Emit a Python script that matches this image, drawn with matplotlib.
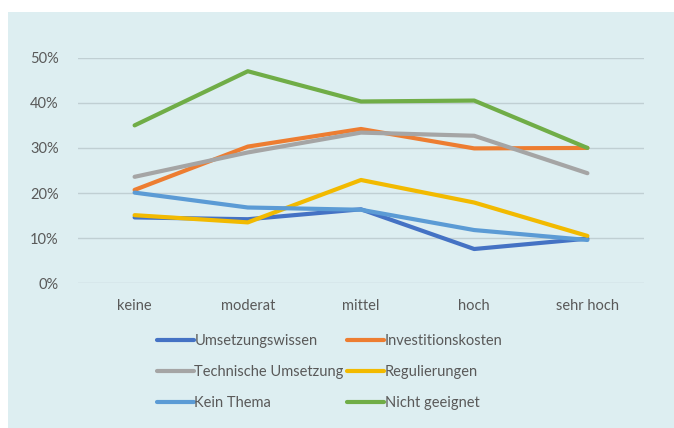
import matplotlib.pyplot as plt
from matplotlib.patches import Rectangle
from matplotlib.ticker import PercentFormatter

categories = ['keine', 'moderat', 'mittel', 'hoch', 'sehr hoch']
umsetzungswissen = [14.6, 14.2, 16.4, 7.6, 9.9]
investitionskosten = [20.7, 30.3, 34.2, 29.9, 30.0]
technische_umsetzung = [23.6, 29.0, 33.4, 32.7, 24.4]
regulierungen = [15.1, 13.5, 22.9, 17.9, 10.5]
kein_thema = [20.1, 16.8, 16.3, 11.8, 9.6]
nicht_geeignet = [35.0, 47.0, 40.3, 40.5, 30.0]

series = [
    ('Umsetzungswissen', umsetzungswissen, '#4472C4'),
    ('Investitionskosten', investitionskosten, '#ED7D31'),
    ('Technische Umsetzung', technische_umsetzung, '#A5A5A5'),
    ('Regulierungen', regulierungen, '#F2BA00'),
    ('Kein Thema', kein_thema, '#5B9BD5'),
    ('Nicht geeignet', nicht_geeignet, '#70AD47'),
]

plt.rcParams['font.family'] = ['Lato', 'DejaVu Sans']
text_color = '#595959'
bg = '#DDEEF1'

fig = plt.figure(figsize=(6.74, 4.28), dpi=100)
fig.patch.set_facecolor('white')
# light panel behind the chart (white strip on left and top)
fig.patches.append(Rectangle((8 / 674, 0), 1 - 8 / 674, 1 - 12 / 428,
                             transform=fig.transFigure, facecolor=bg,
                             edgecolor='none', zorder=-10))

ax = fig.add_axes([78 / 674, 1 - 283.3 / 428, 566 / 674, (283.3 - 57.7) / 428])
ax.set_facecolor('none')

x = list(range(len(categories)))
lines = {}
for name, vals, col in series:
    ln, = ax.plot(x, vals, color=col, linewidth=3.0, label=name,
                  solid_joinstyle='round', solid_capstyle='round')
    lines[name] = ln

ax.set_xlim(-0.5, len(categories) - 0.5)
ax.set_ylim(0, 50)
ax.set_yticks(range(0, 51, 10))
ax.yaxis.set_major_formatter(PercentFormatter(decimals=0))
ax.set_xticks(x)
ax.set_xticklabels(categories)
ax.tick_params(axis='both', length=0, labelsize=10.5, colors=text_color)
ax.tick_params(axis='x', pad=11)
ax.tick_params(axis='y', pad=14)
ax.grid(axis='y', color='#C0CFD3', linewidth=1)
ax.set_axisbelow(True)
for s in ax.spines.values():
    s.set_visible(False)

# Excel-style legend order (row-wise) -> matplotlib fills column-wise
order = ['Umsetzungswissen', 'Technische Umsetzung', 'Kein Thema',
         'Investitionskosten', 'Regulierungen', 'Nicht geeignet']
leg = fig.legend([lines[n] for n in order], order, loc='upper left',
                 bbox_to_anchor=(144 / 674, 1 - 321 / 428), ncol=2,
                 frameon=False, fontsize=10.5, handlelength=2.5,
                 handletextpad=0.05, columnspacing=0.25, labelspacing=1.17)
for t in leg.get_texts():
    t.set_color(text_color)

plt.savefig('out.png', dpi=100, facecolor=fig.get_facecolor())
